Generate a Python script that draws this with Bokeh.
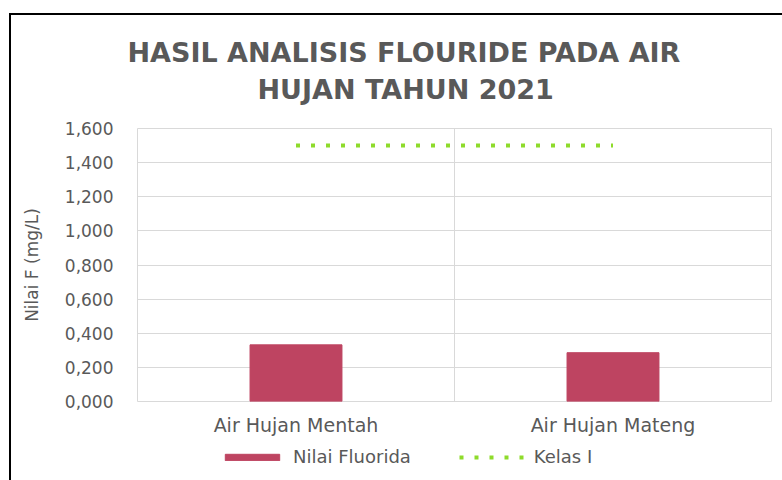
from bokeh.plotting import figure
from bokeh.models import (FactorRange, Range1d, FixedTicker, Span, Legend, LegendItem,
                          ColumnDataSource, Title, Spacer)
from bokeh.layouts import column, row
from bokeh.embed import file_html
from bokeh.resources import INLINE

# ---- data ----
categories = ["Air Hujan Mentah", "Air Hujan Mateng"]
nilai_fluorida = [0.332, 0.286]
kelas_i = [1.5, 1.5]
y_ticks = [0.0, 0.2, 0.4, 0.6, 0.8, 1.0, 1.2, 1.4, 1.6]
y_tick_labels = ["0,000", "0,200", "0,400", "0,600", "0,800", "1,000", "1,200", "1,400", "1,600"]
title_lines = ["HASIL ANALISIS FLOURIDE  PADA AIR", "HUJAN TAHUN 2021"]
series_names = ["Nilai Fluorida", "Kelas I"]

GRAY = "#595959"
GRID = "#D9D9D9"
BAR = "#BE4461"
GREEN = "#8EDB2B"
FONT = "DejaVu Sans"

OX, OY = 11, 15            # page offset of the chart body (inside the black border)
FRAME_L = 137              # page x of the plot area's left edge
MAIN_W, MAIN_H = 782 - OX, 423
LEG_H = 480 - OY - MAIN_H

src = ColumnDataSource(dict(x=categories, top=nilai_fluorida, k=kelas_i))

p = figure(x_range=FactorRange(*categories, range_padding=0), y_range=Range1d(0, 1.6),
           width=MAIN_W, height=MAIN_H, output_backend="svg", toolbar_location=None,
           min_border_left=FRAME_L - OX, min_border_right=11, min_border_top=128 - OY,
           min_border_bottom=MAIN_H - (403 - OY))
p.background_fill_color = "white"
p.border_fill_color = "white"
p.outline_line_color = GRID
p.outline_line_width = 1

p.vbar(x="x", top="top", width=0.29, source=src, fill_color=BAR, line_color=BAR)
p.line(x="x", y="k", source=src, line_color=GREEN, line_width=4,
       line_dash="4 11", line_cap="butt")

# axes
p.yaxis.ticker = FixedTicker(ticks=y_ticks)
p.yaxis.major_label_overrides = {t: l for t, l in zip(y_ticks, y_tick_labels)}
for ax in (p.xaxis[0], p.yaxis[0]):
    ax.axis_line_color = None
    ax.major_tick_line_color = None
    ax.minor_tick_line_color = None
    ax.major_tick_out = 0
    ax.major_tick_in = 0
    ax.major_label_text_color = GRAY
    ax.major_label_text_font = FONT
p.yaxis.major_label_text_font_size = "17px"
p.yaxis.major_label_standoff = 24
p.yaxis.axis_label = "Nilai F (mg/L)"
p.yaxis.axis_label_text_font = FONT
p.yaxis.axis_label_text_font_size = "17px"
p.yaxis.axis_label_text_font_style = "normal"
p.yaxis.axis_label_text_color = GRAY
p.yaxis.axis_label_standoff = 20
p.xaxis.major_label_text_font_size = "19px"
p.xaxis.major_label_standoff = 12

p.ygrid.grid_line_color = GRID
p.ygrid.grid_line_width = 1
p.xgrid.grid_line_color = None
p.add_layout(Span(location=1, dimension="height", line_color=GRID, line_width=1))

# title: a small blank spacer title nearest the frame, then the two text lines
p.add_layout(Title(text=" ", text_font_size="12px", standoff=5), "above")
for txt, off, so in [(title_lines[1], 120, 6), (title_lines[0], -10, 2)]:
    p.add_layout(Title(text=txt, align="left", offset=off, standoff=so,
                       text_font=FONT, text_font_size="27px", text_font_style="bold",
                       text_color=GRAY), "above")

# legend strip: its own figure; glyphs lie outside its visible range, only the legend shows
lf = figure(x_range=FactorRange(*categories), y_range=Range1d(5, 6),
            width=MAIN_W, height=LEG_H, output_backend="svg", toolbar_location=None,
            x_axis_location=None, y_axis_location=None,
            min_border=0, min_border_left=0, min_border_right=0, min_border_top=0, min_border_bottom=0)
lf.outline_line_color = None
lf.grid.grid_line_color = None
lb = lf.vbar(x="x", top="top", width=0.29, source=src, fill_color=BAR, line_color=BAR)
ll = lf.line(x="x", y="k", source=src, line_color=GREEN, line_width=4,
             line_dash="4 11", line_cap="butt")
legend = Legend(items=[LegendItem(label=series_names[0], renderers=[lb]),
                       LegendItem(label=series_names[1], renderers=[ll])],
                orientation="horizontal", location=(222 - FRAME_L - 4, 13),
                glyph_width=68, glyph_height=8, label_standoff=7, spacing=48,
                padding=0, margin=0, border_line_color=None, background_fill_alpha=0,
                label_text_font=FONT, label_text_font_size="18px", label_text_color=GRAY)
lf.add_layout(legend, "center")

# black chart border (left and top edges)
BLACK = {"background-color": "black"}
layout = column(
    Spacer(width=782, height=13),
    row(Spacer(width=9, height=2), Spacer(width=782 - 9, height=2, styles=BLACK)),
    row(Spacer(width=9, height=480 - OY),
        Spacer(width=2, height=480 - OY, styles=BLACK),
        column(p, lf)),
)

open("out.html", "w").write(file_html(layout, INLINE))
